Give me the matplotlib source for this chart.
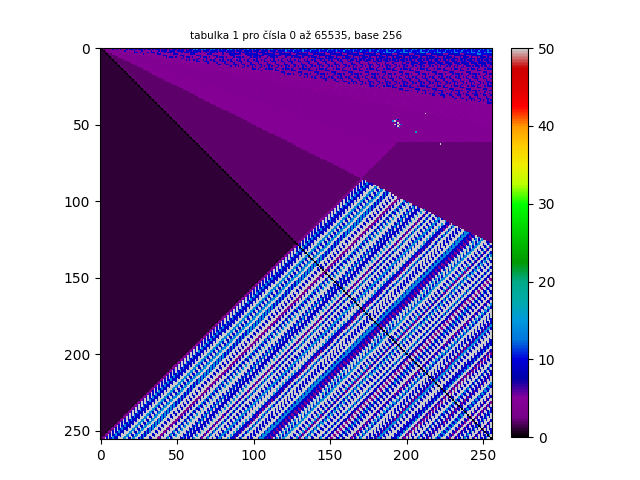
import numpy as np
import matplotlib
matplotlib.use("Agg")
import matplotlib.pyplot as plt

N = 256

# values of the flat regions
diag_val = 0
lower_val = 1
band_val = 2
dark_upper_val = 2.2

# upper part: value by ratio col/row (rays from the origin)
ray_edges = [2, 3, 4, 5, 7, 10, 20, 60]
ray_main = [4.5, 4.5, 4, 4.5, 4.5, 4.5, 5, 9, 10]
ray_alt = [4.5, 4.5, 4.5, 4, 5, 9, 9, 5, 13]

# stripes of the lower right part, by x + y - 256, 2 cells per entry
stripe_main = [4, 9, 9, 14, 9, 50, 50, 14, 9, 50, 14, 50, 14, 14, 50, 9, 50, 50, 4, 50,
               50, 14, 9, 50, 50, 9, 14, 50, 9, 9, 50, 50, 4, 50, 14, 50, 50, 9, 14, 50,
               50, 50, 9, 4, 50, 14, 50, 9, 9, 50, 50, 14, 14, 9, 9, 4, 9, 50, 50, 14,
               50, 9, 50, 14, 4, 50, 14, 50, 9, 50, 50, 14, 50, 9, 4, 50, 9, 14, 9, 50,
               50, 4, 9, 50, 14, 50, 9, 9, 50, 4, 14, 50, 9, 50, 9, 9, 14, 50, 4, 50,
               50, 9, 50, 14, 9, 50, 4, 9, 50, 9, 14, 50, 9, 4, 50, 9, 9, 50, 14, 9,
               50, 4, 9, 9, 50, 14, 50, 9]
stripe_alt = [4, 50, 50, 9, 9, 9, 50, 14, 50, 9, 14, 50, 9, 9, 50, 50, 9, 50, 4, 9,
              50, 9, 50, 14, 50, 50, 9, 9, 9, 50, 14, 50, 9, 50, 9, 50, 9, 50, 14, 9,
              50, 14, 9, 9, 50, 9, 50, 50, 50, 9, 50, 9, 14, 9, 4, 9, 50, 14, 9, 14,
              50, 50, 9, 50, 9, 50, 9, 14, 50, 9, 50, 9, 50, 9, 50, 4, 50, 9, 50, 9,
              50, 9, 50, 14, 9, 50, 50, 50, 9, 9, 14, 9, 50, 50, 50, 9, 9, 50, 9, 4,
              9, 50, 50, 9, 50, 9, 9, 50, 50, 14, 9, 50, 50, 9, 50, 4, 50, 9, 9, 50,
              50, 9, 50, 50, 9, 9, 50, 50]

# light spots in the upper purple part
spot_x = [191, 192, 193, 194, 195, 196, 192, 193, 194, 195, 193, 194, 222, 206, 212]
spot_y = [48, 48, 49, 49, 50, 50, 50, 51, 51, 52, 47, 47, 63, 55, 43]
spot_v = [14, 50, 9, 50, 50, 12, 50, 9, 50, 14, 17, 9, 50, 17, 50]

yy, xx = np.mgrid[0:N, 0:N]
s = xx + yy - 256
k = xx / np.maximum(yy, 0.5)

Z = np.zeros((N, N))

# rays above the diagonal, with a rough texture near the top
idx = np.searchsorted(ray_edges, k, side="right")
main = np.array(ray_main)[idx]
alt = np.array(ray_alt)[idx]
texture = (xx * xx + 3 * xx * yy + yy) % 11 < 4
Z[:] = np.where(texture, alt, main)

Z[(yy > xx) & (s < 0)] = lower_val
Z[(yy < xx) & (xx < 2 * yy) & (s < 0)] = band_val
Z[(s >= 0) & (xx >= 2 * yy) & (yy >= 62)] = dark_upper_val

striped = (s >= 0) & (xx < 2 * yy)
bins = np.clip(s // 2, 0, len(stripe_main) - 1)
sm = np.array(stripe_main)[bins]
sa = np.array(stripe_alt)[bins]
Z[striped] = np.where(xx % 2 == 0, sm, sa)[striped]

for x, y, v in zip(spot_x, spot_y, spot_v):
    Z[y, x] = v

Z[xx == yy] = diag_val

fig = plt.figure(figsize=(6.4, 4.8), dpi=100)
ax = fig.add_axes([0.155, 0.085, 0.614, 0.816])
im = ax.imshow(Z, cmap="nipy_spectral", vmin=0, vmax=50, interpolation="nearest")
ax.set_title("tabulka 1 pro čísla 0 až 65535, base 256", fontsize=7.5)
cax = fig.add_axes([0.798, 0.089, 0.027, 0.811])
fig.colorbar(im, cax=cax)
fig.savefig("out.png", dpi=100)
